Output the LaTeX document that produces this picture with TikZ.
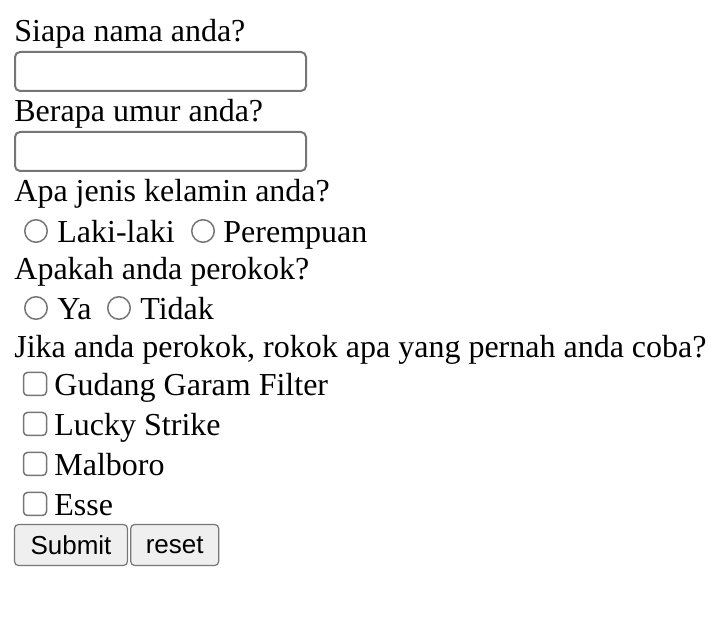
\documentclass[tikz,border=0pt]{standalone}
\usepackage{fontspec}
\setmainfont{Liberation Serif}
\newfontfamily\buttonfont{Liberation Sans}
\usepackage{tikz}
\usetikzlibrary{positioning}
\definecolor{bordergray}{HTML}{767676}
\definecolor{buttonfill}{HTML}{EFEFEF}

\begin{document}
\begin{tikzpicture}[x=0.5pt,y=-0.5pt,
	question/.style={anchor=base west,inner sep=0pt,font=\fontsize{16}{19}\selectfont},
	field/.style={draw=bordergray,line width=1pt,rounded corners=2.5pt,minimum width=145.5pt,minimum height=19.5pt,inner sep=0pt},
	radio/.style={circle,draw=bordergray,line width=0.75pt,minimum size=11.25pt,inner sep=0pt},
	checkbox/.style={rectangle,draw=bordergray,line width=0.75pt,minimum size=11.5pt,inner sep=0pt,rounded corners=2pt},
	button/.style={draw=bordergray,fill=buttonfill,line width=0.6pt,rounded corners=2pt,minimum height=20.5pt,inner sep=0pt,font=\buttonfont\fontsize{13}{16}\selectfont}]
			\useasboundingbox (0,0) rectangle (718,630);
			%name and age
			\node[question] (nama) at (14,42) {Siapa nama anda?};
			\node[field] (namabox) at (160.5,71.5) {};
			\node[question] (umur) at (14,122) {Berapa umur anda?};
			\node[field] (umurbox) at (160.5,151.5) {};
			%gender
			\node[question] (kelamin) at (14,202) {Apa jenis kelamin anda?};
			\node[radio] (laki) at (36,231) {};
			\node[question] (lakitext) at (57,243) {Laki-laki};
			\node[radio] (perempuan) at (203,231) {};
			\node[question] (perempuantext) at (223,243) {Perempuan};
			%smoker
			\node[question] (perokok) at (14,280) {Apakah anda perokok?};
			\node[radio] (ya) at (36,308) {};
			\node[question] (yatext) at (57,320) {Ya};
			\node[radio] (tidak) at (119,308) {};
			\node[question] (tidaktext) at (140,320) {Tidak};
			%brands
			\node[question] (rokok) at (14,358) {Jika anda perokok, rokok apa yang pernah anda coba?};
			\node[checkbox] (gudang) at (35,384) {};
			\node[question] (gudangtext) at (54,396) {Gudang Garam Filter};
			\node[checkbox] (lucky) at (35,424) {};
			\node[question] (luckytext) at (54,436) {Lucky Strike};
			\node[checkbox] (malboro) at (35,464) {};
			\node[question] (malborotext) at (54,476) {Malboro};
			\node[checkbox] (esse) at (35,504) {};
			\node[question] (essetext) at (54,516) {Esse};
			%buttons
			\node[button,minimum width=56.5pt] (submit) at (71,545) {Submit};
			\node[button,minimum width=44pt,right=1pt of submit] (reset) {reset};

		\end{tikzpicture}
\end{document}
